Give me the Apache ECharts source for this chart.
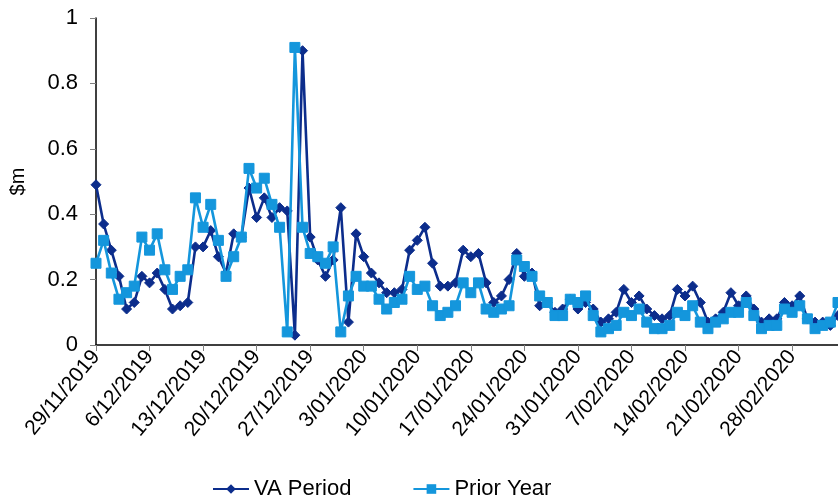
<!DOCTYPE html>
<html>
<head>
<meta charset="utf-8">
<title>VA Period vs Prior Year</title>
<script src="https://cdn.jsdelivr.net/npm/echarts@6/dist/echarts.min.js"></script>
<style>
  html, body { margin: 0; padding: 0; background: #ffffff; }
  #chart { width: 838px; height: 498px; }
</style>
</head>
<body>
<div id="chart"></div>
<script>
// Daily values ($m), starting 29/11/2019
const startDate = [2019, 11, 29];

const vaPeriod = [
  0.49, 0.37, 0.29, 0.21, 0.11, 0.13, 0.21, 0.19, 0.22, 0.17,
  0.11, 0.12, 0.13, 0.30, 0.30, 0.35, 0.27, 0.22, 0.34, 0.33,
  0.48, 0.39, 0.45, 0.39, 0.42, 0.41, 0.03, 0.90, 0.33, 0.26,
  0.21, 0.26, 0.42, 0.07, 0.34, 0.27, 0.22, 0.19, 0.16, 0.16,
  0.17, 0.29, 0.32, 0.36, 0.25, 0.18, 0.18, 0.19, 0.29, 0.27,
  0.28, 0.19, 0.13, 0.15, 0.20, 0.28, 0.21, 0.22, 0.12, 0.13,
  0.10, 0.11, 0.14, 0.11, 0.13, 0.11, 0.07, 0.08, 0.10, 0.17,
  0.13, 0.15, 0.11, 0.09, 0.08, 0.09, 0.17, 0.15, 0.18, 0.13,
  0.07, 0.08, 0.10, 0.16, 0.12, 0.15, 0.11, 0.07, 0.08, 0.08,
  0.13, 0.12, 0.15, 0.08, 0.07, 0.07, 0.06, 0.09
];

const priorYear = [
  0.25, 0.32, 0.22, 0.14, 0.16, 0.18, 0.33, 0.29, 0.34, 0.23,
  0.17, 0.21, 0.23, 0.45, 0.36, 0.43, 0.32, 0.21, 0.27, 0.33,
  0.54, 0.48, 0.51, 0.43, 0.36, 0.04, 0.91, 0.36, 0.28, 0.27,
  0.25, 0.30, 0.04, 0.15, 0.21, 0.18, 0.18, 0.14, 0.11, 0.13,
  0.14, 0.21, 0.17, 0.18, 0.12, 0.09, 0.10, 0.12, 0.19, 0.16,
  0.19, 0.11, 0.10, 0.11, 0.12, 0.26, 0.24, 0.21, 0.15, 0.13,
  0.09, 0.09, 0.14, 0.13, 0.15, 0.09, 0.04, 0.05, 0.06, 0.10,
  0.09, 0.11, 0.07, 0.05, 0.05, 0.06, 0.10, 0.09, 0.12, 0.07,
  0.05, 0.07, 0.08, 0.10, 0.10, 0.13, 0.09, 0.05, 0.06, 0.06,
  0.11, 0.10, 0.12, 0.08, 0.05, 0.06, 0.07, 0.13
];

const yTicks = [0, 0.2, 0.4, 0.6, 0.8, 1];

// One category per day, written as d/mm/yyyy
const categories = [];
for (let i = 0; i < vaPeriod.length; i++) {
  const d = new Date(startDate[0], startDate[1] - 1, startDate[2] + i);
  const mm = String(d.getMonth() + 1).padStart(2, '0');
  categories.push(d.getDate() + '/' + mm + '/' + d.getFullYear());
}

const FONT = '"Liberation Sans", Arial, sans-serif';
const NAVY = '#0c2d8c';
const SKY = '#1496dc';

const chart = echarts.init(document.getElementById('chart'), null, { renderer: 'canvas' });

chart.setOption({
  animation: false,
  backgroundColor: '#ffffff',
  textStyle: { fontFamily: FONT },
  grid: { left: 96, right: -3, top: 18, bottom: 153, containLabel: false },
  legend: {
    left: 207,
    top: 473,
    itemWidth: 36,
    itemHeight: 12,
    itemGap: 61,
    textStyle: { fontFamily: FONT, fontSize: 22, color: '#000000' },
    data: ['VA Period', 'Prior Year']
  },
  xAxis: {
    type: 'category',
    data: categories,
    boundaryGap: false,
    axisLine: { show: true, lineStyle: { color: '#000000', width: 1.5 } },
    axisTick: { show: true, interval: 6, length: 6, lineStyle: { color: '#808080', width: 1 } },
    axisLabel: {
      interval: 6,
      rotate: 50,
      margin: 8,
      fontFamily: FONT,
      fontSize: 21,
      color: '#000000'
    },
    splitLine: { show: false }
  },
  yAxis: {
    type: 'value',
    min: yTicks[0],
    max: yTicks[yTicks.length - 1],
    interval: 0.2,
    name: '$m',
    nameLocation: 'middle',
    nameRotate: 90,
    nameGap: 68,
    nameTextStyle: { fontFamily: FONT, fontSize: 20, color: '#000000' },
    axisLine: { show: true, lineStyle: { color: '#000000', width: 1.5 } },
    axisTick: { show: true, inside: false, length: 6, lineStyle: { color: '#808080', width: 1 } },
    axisLabel: {
      margin: 18,
      fontFamily: FONT,
      fontSize: 22,
      color: '#000000',
      formatter: function (v) { return String(Math.round(v * 10) / 10); }
    },
    splitLine: { show: false }
  },
  series: [
    {
      name: 'VA Period',
      type: 'line',
      data: vaPeriod,
      symbol: 'diamond',
      symbolSize: 10,
      showAllSymbol: true,
      lineStyle: { color: NAVY, width: 2.6 },
      itemStyle: { color: NAVY, borderColor: NAVY },
      z: 2
    },
    {
      name: 'Prior Year',
      type: 'line',
      data: priorYear,
      symbol: 'rect',
      symbolSize: 10,
      showAllSymbol: true,
      lineStyle: { color: SKY, width: 2.6 },
      itemStyle: { color: SKY, borderColor: SKY },
      z: 3
    }
  ]
});
</script>
</body>
</html>
